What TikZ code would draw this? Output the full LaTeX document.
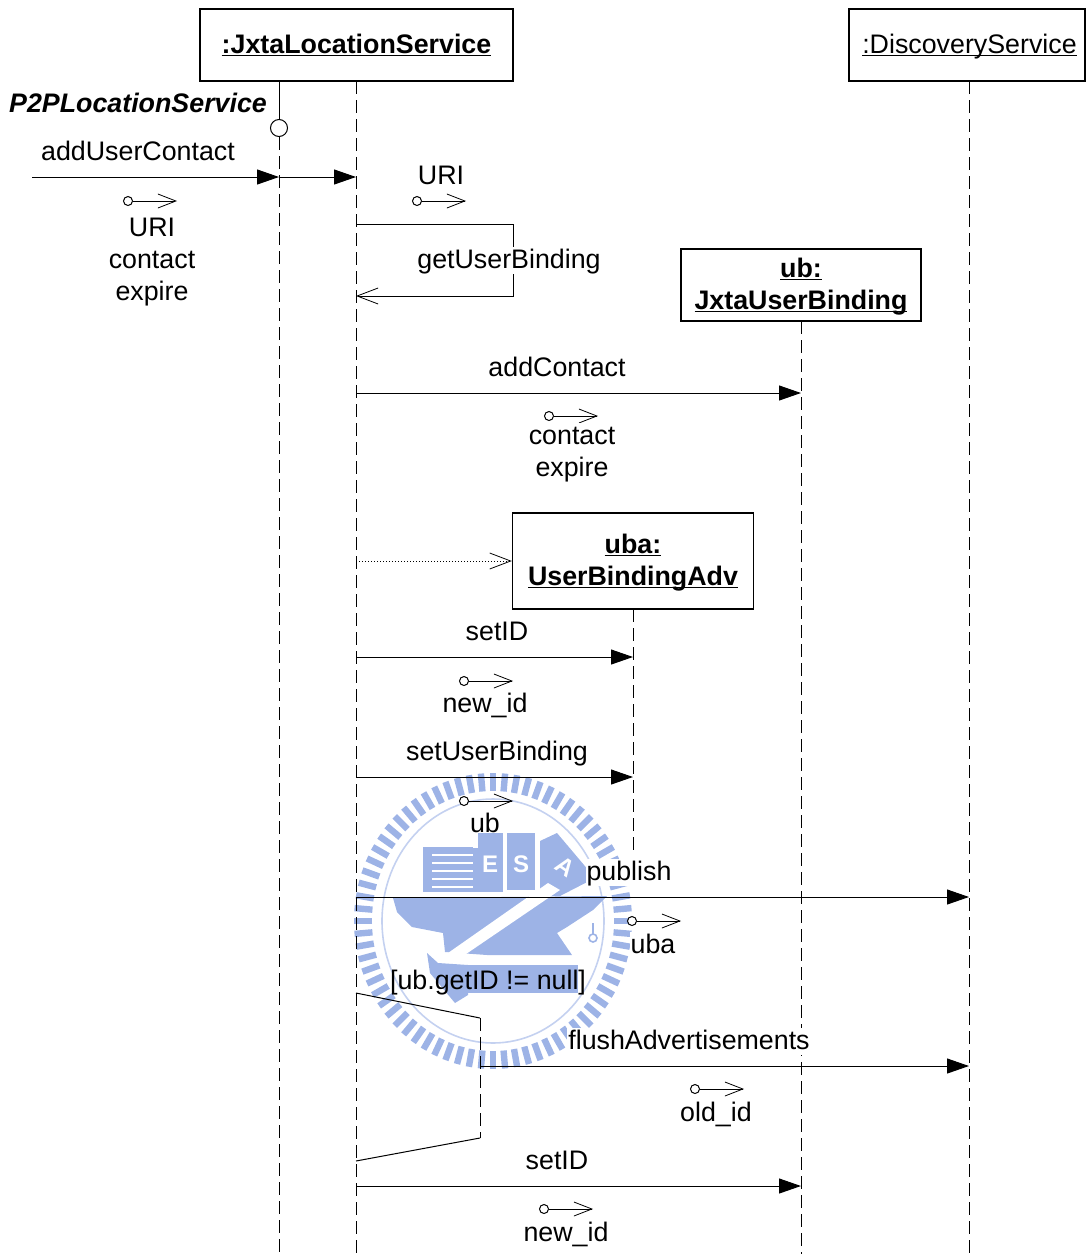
\documentclass[tikz,border=0pt]{standalone}
\usepackage{fontspec}
\usepackage{xcolor}
\usetikzlibrary{arrows.meta}
\setmainfont{Liberation Sans}
\definecolor{LogoBlue}{HTML}{9DB3E6}
\newcommand{\objname}[1]{\rule{0pt}{11pt}\underline{\smash{#1}}\rule[-3pt]{0pt}{3pt}}
\begin{document}
\begin{tikzpicture}[
            x=0.5pt, y=-0.5pt,
            font=\fontsize{13.4}{16}\selectfont,
            every path/.style={line width=0.5pt},
            objbox/.style={draw, fill=white, line width=0.7pt, align=center, inner sep=0pt},
            boldobj/.style={objbox, font=\bfseries\fontsize{13.4}{16}\selectfont},
            lifeline/.style={dash pattern=on 6.5pt off 3pt},
            msg/.style={-{Triangle[length=11pt,width=7.5pt]}},
            reply/.style={-{Straight Barb[length=10.5pt,width=8pt,line width=0.4pt]}},
            param/.style={-{Straight Barb[length=9pt,width=7pt,line width=0.4pt]}},
            pindot/.style={circle, draw, fill=white, inner sep=0pt, minimum size=4.5pt},
            plainlbl/.style={inner sep=0.5pt, text height=10.5pt, text depth=2pt},
            lbl/.style={plainlbl, fill=white},
            logoletter/.style={text=white, font=\bfseries\fontsize{12}{12}\selectfont},
            logo/.style={fill=LogoBlue, draw=none}
        ]
            \useasboundingbox (0,0) rectangle (1086,1254);

            \foreach \a in {0,5,...,359} {
                \draw[LogoBlue, line width=3.2pt, shift={(493,921)}] ({\a}:121 and 130) -- ({\a}:139 and 148);
            }
            \draw[LogoBlue!60, line width=0.8pt] (493,921) ellipse [x radius=111, y radius=122];
            \fill[logo] (423,847) rectangle (473,892);
            \foreach \y in {855,863,871,879,887} {
                \draw[white, line width=1.2pt] (432,\y) -- (473,\y);
            }
            \fill[logo] (473,848) rectangle (478,892);
            \fill[logo] (478,833) rectangle (503,892);
            \fill[logo] (507,833) rectangle (535,890);
            \fill[logo] (540,841) -- (557,833) -- (595,878) -- (560,896) -- (540,896) -- cycle;
            \node[logoletter] (logoE) at (490,864) {E};
            \node[logoletter] (logoS) at (521,864) {S};
            \node[logoletter, rotate=-35] (logoA) at (565,867) {A};
            \fill[logo] (393,898) -- (607,896) -- (593,910) -- (567,927) -- (557,933) -- (572,955) -- (487,955) -- (445,952) -- (443,933) -- (412,927) -- (397,912) -- cycle;
            \fill[white] (548,883) -- (560,890) -- (447,967) -- (438,960) -- cycle;
            \fill[logo] (427,953) -- (438,963) -- (468,965) -- (468,995) -- (455,1003) -- (430,973) -- cycle;
            \fill[logo] (468,965) rectangle (578,993);
            \draw[LogoBlue, line width=0.8pt] (593,923) -- (593,935);
            \draw[LogoBlue, line width=0.8pt] (593,938) circle [radius=4];

            \node[boldobj, minimum width=156.5pt, minimum height=36pt] (location) at (356.5,45) {\objname{:JxtaLocationService}};
            \node[objbox, minimum width=118pt, minimum height=36pt] (discovery) at (967,45) {\hspace*{2.5pt}\objname{:DiscoveryService}};
            \node[boldobj, minimum width=120pt, minimum height=36pt] (binding) at (801,285) {\objname{ub:}\\\objname{JxtaUserBinding}};
            \node[boldobj, minimum width=120.5pt, minimum height=48pt] (adv) at (633,561) {\objname{uba:}\\\objname{UserBindingAdv}};

            \node[circle, draw, inner sep=0pt, minimum size=8.5pt] (iface) at (279,128) {};
            \coordinate (ifacetop) at (279,81);
            \coordinate (ifaceend) at (279,1254);
            \coordinate (locationend) at (356,1254);
            \coordinate (bindingend) at (801,1254);
            \coordinate (advend) at (633,852);
            \coordinate (discoveryend) at (969,1254);
            \coordinate (locationtop) at (356,81);
            \coordinate (discoverytop) at (969,81);
            \coordinate (bindingtop) at (801,321);
            \coordinate (advtop) at (633,609);

            \draw (ifacetop) -- (iface);
            \draw[lifeline] (iface) -- (ifaceend);
            \draw[lifeline] (locationtop) -- (locationend);
            \draw[lifeline] (bindingtop) -- (bindingend);
            \draw[lifeline] (advtop) -- (advend);
            \draw[lifeline] (discoverytop) -- (discoveryend);

            \foreach \fromx/\tox/\y in {32/279/177, 279/356/177, 356/801/393, 356/633/657, 356/633/777, 356/969/897, 480/969/1066, 356/801/1186} {
                \coordinate (from\fromx\y) at (\fromx,\y);
                \coordinate (to\fromx\y) at (\tox,\y);
                \draw[msg] (from\fromx\y) -- (to\fromx\y);
            }

            \coordinate (selfstart) at (356,224);
            \coordinate (selfright) at (513,224);
            \coordinate (selfback) at (513,296);
            \coordinate (selfend) at (356,296);
            \draw[reply] (selfstart) -- (selfright) -- (selfback) -- (selfend);
            \coordinate (createstart) at (356,561);
            \draw[reply, densely dotted] (createstart) -- (adv.west);

            \coordinate (guardtop) at (356,993);
            \coordinate (guardright) at (480,1018);
            \coordinate (guardlow) at (480,1138);
            \coordinate (guardend) at (356,1161);
            \draw (guardtop) -- (guardright);
            \draw[lifeline] (guardright) -- (guardlow);
            \draw (guardlow) -- (guardend);

            \foreach \name/\x/\y in {pa/128/201, pb/417/201, pc/549/416, pd/464/681, pe/464/801, pf/632/921, pg/695/1089, ph/544/1209} {
                \node[pindot] (\name) at (\x,\y) {};
                \coordinate (\name tip) at (\x+49,\y);
                \draw[param] (\name) -- (\name tip);
            }

            \node[plainlbl, font=\bfseries\itshape\fontsize{13.4}{16}\selectfont] (ifacename) at (138,104) {P2PLocationService};
            \node[lbl] (addusercontact) at (138,152) {addUserContact};
            \node[lbl] (uria) at (152,228) {URI};
            \node[lbl] (contacta) at (152,260) {contact};
            \node[lbl] (expirea) at (152,292) {expire};
            \node[lbl] (urib) at (441,176) {URI};
            \node[lbl] (getuserbinding) at (509,260) {getUserBinding};
            \node[lbl] (addcontact) at (557,368) {addContact};
            \node[lbl] (contactb) at (572,436) {contact};
            \node[lbl] (expireb) at (572,468) {expire};
            \node[lbl] (setida) at (497,632) {setID};
            \node[lbl] (newida) at (485,704) {new\_id};
            \node[lbl] (setuserbinding) at (497,752) {setUserBinding};
            \node[plainlbl] (ubparam) at (485,824) {ub};
            \node[lbl] (publish) at (629,872) {publish};
            \node[lbl] (ubaparam) at (653,945) {uba};
            \node[plainlbl] (guard) at (488,981) {[ub.getID != null]};
            \node[lbl] (flush) at (689,1041) {flushAdvertisements};
            \node[lbl] (oldid) at (716,1113) {old\_id};
            \node[lbl] (setidb) at (557,1161) {setID};
            \node[lbl] (newidb) at (566,1233) {new\_id};
        \end{tikzpicture}
\end{document}
